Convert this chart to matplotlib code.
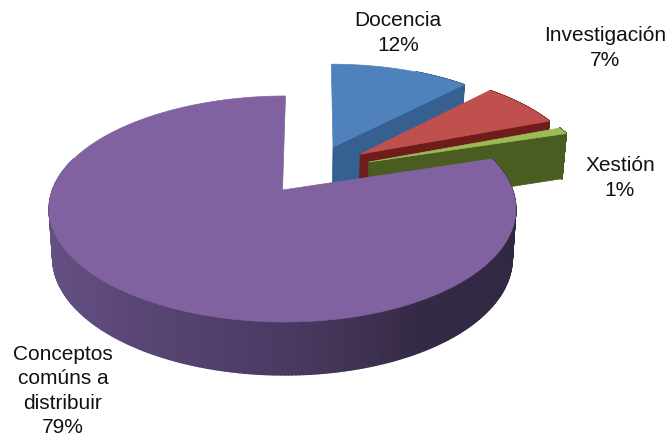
import matplotlib
matplotlib.use('Agg')
import matplotlib.pyplot as plt
import numpy as np
from matplotlib.collections import PolyCollection
from matplotlib.colors import to_rgb
from matplotlib.patches import Polygon

# data
labels = ['Docencia', 'Investigación', 'Xestión', 'Conceptos\ncomúns a\ndistribuir']
values = [12, 7, 1, 79]

# styles, in drawing order (back to front)
top_colors = ['#4f81bd', '#c0504d', '#9bbb59', '#8062a0']
side_colors = ['#2f5a8c', '#6e1d1b', '#4a5c20', '#5a4678']
wall_colors = ['#35608f', '#6e1d1b', '#4a5c20', '#5a4678']
offsets = [(0.232, 0.419), (0.355, 0.345), (0.39, 0.266), (0.0, 0.0)]
label_pos = [(398, 33), (605, 48), (620, 178), (63, 391)]

# projection of the tilted disc to image pixels
A, B, K = 230.0, 109.8, 0.168
CX, CY = 282.5, 190.0
BOTTOM_SCALE = 0.985


def project(u, v, level=0.0):
    u, v = np.asarray(u, float), np.asarray(v, float)
    f = 1.0 / (1.0 + K * v)
    depth = 48.0 - 5.0 * v
    x = CX + 0.5 * v + 2.5 * v * v + A * u * f
    y = CY - B * v * f
    if level:
        x = CX + (x - CX) * BOTTOM_SCALE
        y = y + depth
    return np.column_stack([x, y])


def arc(start, end, off, n=360):
    t = np.radians(np.linspace(start, end, n))
    return np.cos(t) + off[0], np.sin(t) + off[1]


def strip_colors(base, t, purple):
    # shaded rim, dark toward the lower right
    if not purple:
        return [to_rgb(base)] * len(t)
    stops = [(180, '#6a5487'), (225, '#5e4a7c'), (270, '#4a3a62'), (300, '#352a45'), (380, '#2f2640')]
    xs = [s[0] for s in stops]
    rgb = np.array([to_rgb(s[1]) for s in stops])
    return np.column_stack([np.interp(t, xs, rgb[:, i]) for i in range(3)])


def draw_slice(ax, start, end, off, top, side, wall, purple=False):
    us, vs = arc(start, end, off)
    angles = np.linspace(start, end, len(us))

    upper = project(us, vs)
    lower = project(us, vs, 1)

    # outer rim, only the part that faces the viewer
    front = range(len(us) - 1)
    if purple:
        front = [i for i in front if vs[i] < 0.3]
    else:
        front = [i for i in front if np.cos(np.radians(angles[i])) > 0.45]
    quads = [[upper[i], upper[i + 1], lower[i + 1], lower[i]] for i in front]
    t = angles[list(front)]
    if purple:
        t = np.where(t < 100, t + 360, t)
    cols = strip_colors(side, t, purple)
    ax.add_collection(PolyCollection(quads, facecolors=cols, edgecolors=cols, linewidths=1.0))

    # the cut wall on the lower edge
    if not purple:
        a0 = project([off[0]], [off[1]])[0]
        b0 = project([off[0]], [off[1]], 1)[0]
        ax.add_patch(Polygon([a0, upper[0], lower[0], b0], facecolor=wall, edgecolor=wall, lw=0.5))

    # top face
    a0 = project([off[0]], [off[1]])
    ax.add_patch(Polygon(np.vstack([a0, upper]), facecolor=top, edgecolor=top, lw=0.5))


def make_plot():
    fig = plt.figure(figsize=(6.72, 4.37), dpi=100)
    ax = fig.add_axes([0, 0, 1, 1])
    ax.set_xlim(0, 672)
    ax.set_ylim(437, 0)
    ax.axis('off')

    # slices run clockwise from twelve o'clock
    total = sum(values)
    angle = 90.0
    for i, val in enumerate(values):
        sweep = val / total * 360.0
        start = angle - sweep
        draw_slice(ax, start, angle, offsets[i], top_colors[i], side_colors[i], wall_colors[i],
                   purple=(i == 3))
        angle = start

    for lab, val, pos in zip(labels, values, label_pos):
        ax.text(pos[0], pos[1], '{}\n{}%'.format(lab, val), ha='center', va='center',
                fontsize=15, family='Liberation Sans', color='#111111', linespacing=1.36)

    fig.savefig('out.png', dpi=100)


if __name__ == "__main__":
    make_plot()
